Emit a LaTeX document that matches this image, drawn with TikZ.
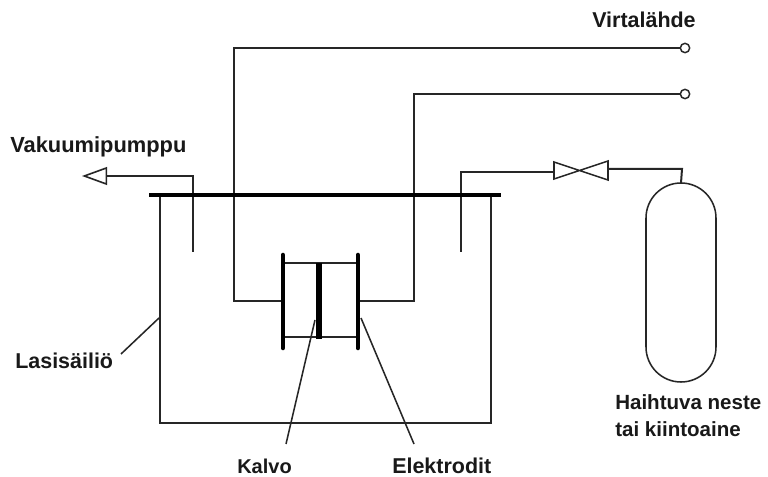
\documentclass[tikz,border=0pt]{standalone}
\usepackage{fontspec}
\setmainfont{Liberation Sans}
\usetikzlibrary{shapes.geometric}
\tikzset{
  wire/.style={draw=black!85,line width=1.5pt},
  thinwire/.style={draw=black!85,line width=1.15pt},
  heavy/.style={draw=black,line width=3.6pt},
  plate/.style={draw=black,line width=3.4pt,line cap=round},
  lab/.style={inner sep=0pt,font=\fontsize{#1}{20.25}\selectfont\bfseries,text=black!90,align=left},
  lab/.default=16.1,
  term/.style={circle,draw=black!85,line width=1.1pt,fill=white,minimum size=7pt,inner sep=0pt}
}
\begin{document}
\begin{tikzpicture}[x=0.75pt,y=-0.75pt]
\useasboundingbox (0,0) rectangle (768,477);
\fill[white] (0,0) rectangle (768,477);
% coordinates
\coordinate (barL) at (149,195); \coordinate (barR) at (501,195);
\coordinate (tankTL) at (160,195); \coordinate (tankBL) at (160,423);
\coordinate (tankBR) at (491,423); \coordinate (tankTR) at (491,195);
\coordinate (pumpEnd) at (193,252); \coordinate (pumpTop) at (193,176);
\coordinate (feedEnd) at (461,252); \coordinate (feedTop) at (461,172);
\coordinate (valveL) at (554,172); \coordinate (valveR) at (608,169);
\coordinate (tankTop) at (682,169); \coordinate (vesselTop) at (681,183);
\coordinate (elLt) at (283,255); \coordinate (elLb) at (283,348);
\coordinate (elRt) at (358,255); \coordinate (elRb) at (358,348);
\coordinate (memT) at (319,263); \coordinate (memB) at (319,339);
\coordinate (elLm) at (283,301); \coordinate (elRm) at (358,301);
\coordinate (glassA) at (159,318); \coordinate (glassB) at (121,354);
\coordinate (filmA) at (315,320); \coordinate (filmB) at (286,444);
\coordinate (elecA) at (361,318); \coordinate (elecB) at (414,444);
% wires
\node[term] (t1) at (685,48) {};
\node[term] (t2) at (685,94) {};
\draw[wire] (t1.west) -- (234,48) -- (234,301) -- (elLm);
\draw[wire] (t2.west) -- (414,94) -- (414,301) -- (elRm);
% tank
\draw[wire] (tankTL) -- (tankBL) -- (tankBR) -- (tankTR);
% pump pipe
\node[draw=black!85,line width=1.2pt,fill=white,isosceles triangle,isosceles triangle apex angle=40,shape border rotate=180,inner sep=0pt,anchor=apex,minimum height=16.5pt,minimum width=12pt] (pumpArrow) at (82,176) {};
\draw[wire] (pumpEnd) -- (pumpTop) -- (pumpArrow.east);
% feed pipe and valve
\draw[wire] (feedEnd) -- (feedTop) -- (valveL);
\draw[thinwire] (554,162) -- (608,180) -- (608,161) -- (554,179) -- cycle;
\draw[wire] (valveR) -- (tankTop) -- (vesselTop);
% vessel
\draw[thinwire] (646,218) arc[start angle=180,end angle=360,radius=35] -- (716,347) arc[start angle=0,end angle=180,radius=35] -- cycle;
% lid
\draw[heavy] (barL) -- (barR);
% cell
\draw[wire] (elLt |- memT) -- (elRt |- memT);
\draw[wire] (283,337) -- (358,337);
\draw[plate] (elLt) -- (elLb);
\draw[plate] (elRt) -- (elRb);
\draw[draw=black,line width=4.6pt] (memT) -- (memB);
% labels
\node[lab=16.4,anchor=west] (pump) at (10,147) {Vakuumipumppu};
\node[lab,anchor=west] (power) at (592,20) {Virtalähde};
\node[lab,anchor=west] (glass) at (15,361) {Lasisäiliö};
\node[lab=15,anchor=base west] (film) at (237,473.5) {Kalvo};
\node[lab,anchor=base west] (elec) at (392,473.5) {Elektrodit};
\node[lab=15.4,anchor=west] (liq) at (615,415.5) {Haihtuva neste\\tai kiintoaine};
% leaders
\draw[thinwire] (glassA) -- (glassB);
\draw[thinwire] (filmA) -- (filmB);
\draw[thinwire] (elecA) -- (elecB);
\end{tikzpicture}
\end{document}
